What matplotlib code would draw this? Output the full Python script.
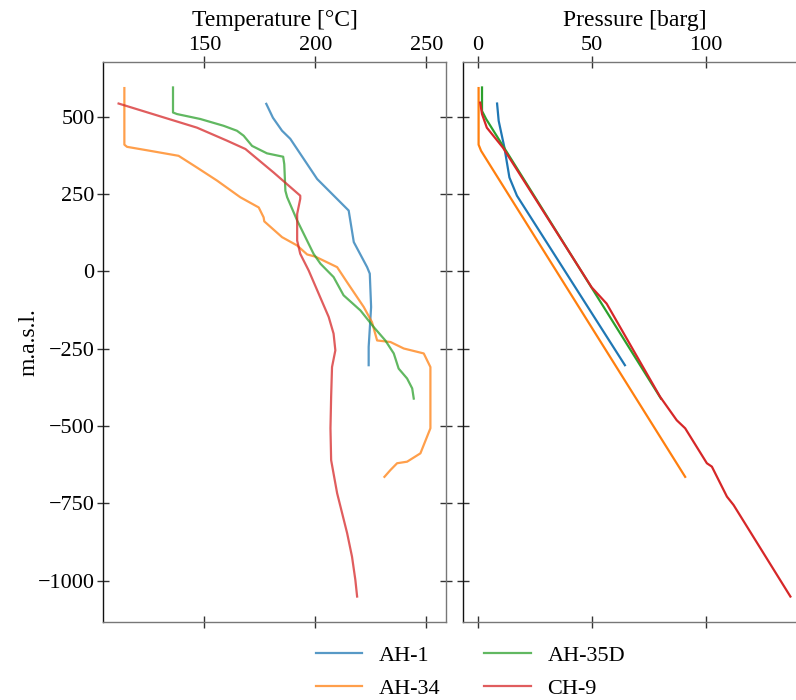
import numpy as np
import matplotlib
matplotlib.use("Agg")
from matplotlib import pyplot as plt

plt.rcParams['font.family'] = ['Liberation Serif', 'DejaVu Serif']

# temperature profiles (deg C vs m.a.s.l.)
ah1_T = [177.9, 180.9, 185.0, 188.7, 200.8, 215.0, 217.3, 223.3, 224.5, 225.1, 224.0, 224.0]
ah1_Tz = [542, 497, 455, 429, 299, 197, 95, 14, -7, -115, -244, -303]

ah34_T = [114.0, 114.0, 115.2, 125.7, 138.4, 146.7, 155.7, 166.2, 174.5, 176.7, 177.0, 185.0,
          191.8, 196.3, 200.0, 209.8, 214.3, 221.8, 225.5, 227.8, 233.8, 239.8, 248.8, 251.8,
          251.8, 247.3, 241.3, 236.8, 233.8, 231.1]
ah34_Tz = [593, 410, 403, 390, 374, 336, 294, 240, 207, 175, 162, 111,
           84, 55, 48, 14, -35, -115, -164, -223, -228, -249, -265, -309,
           -507, -588, -615, -620, -642, -664]

ah35d_T = [135.9, 135.9, 137.7, 148.2, 158.7, 164.7, 167.7, 171.5, 178.2, 185.5, 186.0, 186.5,
           187.3, 191.8, 199.2, 202.3, 208.2, 212.7, 220.3, 226.3, 231.5, 235.3, 237.5, 241.3,
           243.6, 244.3]
ah35d_Tz = [595, 514, 509, 493, 471, 455, 439, 406, 382, 371, 347, 261,
            240, 165, 57, 25, -18, -77, -126, -180, -223, -265, -314, -346,
            -378, -411]

ch9_T = [111.4, 146.7, 160.2, 168.5, 181.2, 193.2, 193.2, 191.8, 191.8, 193.2, 197.0, 201.5,
         206.0, 208.2, 209.0, 207.5, 207.1, 206.8, 207.1, 209.8, 214.3, 216.5, 218.0, 218.8]
ch9_Tz = [543, 465, 423, 396, 320, 245, 235, 186, 100, 57, 3, -72,
          -147, -201, -255, -309, -405, -507, -610, -717, -846, -922, -997, -1051]

# pressure profiles (barg vs m.a.s.l.)
ah1_P = [8.5, 9.2, 11.7, 13.9, 17.2, 64.5]
ah1_Pz = [543, 487, 401, 304, 245, -303]

ah34_P = [0.4, 0.4, 1.5, 90.9]
ah34_Pz = [593, 410, 390, -664]

ah35d_P = [1.9, 1.9, 3.7, 80.3]
ah35d_Pz = [595, 519, 493, -411]

ch9_P = [1.1, 1.9, 4.0, 11.0, 49.9, 56.5, 79.9, 87.2, 90.9, 100.4, 102.6, 109.2, 112.1, 137.0]
ch9_Pz = [546, 509, 465, 401, -51, -104, -405, -481, -507, -620, -631, -728, -755, -1051]

wells = ['AH-1', 'AH-34', 'AH-35D', 'CH-9']
colors = ['#1f77b4', '#ff7f0e', '#2ca02c', '#d62728']
temp_data = [(ah1_T, ah1_Tz), (ah34_T, ah34_Tz), (ah35d_T, ah35d_Tz), (ch9_T, ch9_Tz)]
pres_data = [(ah1_P, ah1_Pz), (ah34_P, ah34_Pz), (ah35d_P, ah35d_Pz), (ch9_P, ch9_Pz)]

fig = plt.figure(figsize=(7.96, 7.0), dpi=100)
ax1 = fig.add_axes([103 / 796, 78 / 700, 343 / 796, 560 / 700])
ax2 = fig.add_axes([463 / 796, 78 / 700, 343 / 796, 560 / 700], sharey=ax1)

for (x, z), c, name in zip(temp_data, colors, wells):
    ax1.plot(x, z, color=c, alpha=0.75, linewidth=1.6, label=name)
for (x, z), c in zip(pres_data, colors):
    ax2.plot(x, z, color=c, linewidth=1.6)

ax1.set_xticks([150, 200, 250])
ax2.set_xticks([0, 50, 100])
ax1.set_yticks([500, 250, 0, -250, -500, -750, -1000])

for ax in (ax1, ax2):
    ax.xaxis.set_label_position('top')
    ax.tick_params(axis='both', direction='inout', length=8, width=1, color='#333333',
                   labelsize=16, top=True, bottom=True, labeltop=True, labelbottom=False)
    ax.tick_params(axis='x', pad=1)
    ax.tick_params(axis='y', pad=2)
    for s in ax.spines.values():
        s.set_color('#777777')
        s.set_linewidth(1.0)
    ax.spines['left'].set_color('#111111')

ax1.tick_params(axis='y', left=True, right=True, labelleft=True)
ax2.tick_params(axis='y', left=True, right=False, labelleft=False)

ax1.set_xlabel('Temperature [°C]', fontsize=17, labelpad=7)
ax2.set_xlabel('Pressure [barg]', fontsize=17, labelpad=7)
ax1.set_ylabel('m.a.s.l.', fontsize=17, labelpad=-1)

handles, labels = ax1.get_legend_handles_labels()
fig.legend(handles, labels, loc='lower center', bbox_to_anchor=(0.591, -0.027), ncol=2,
           frameon=False, fontsize=16, handlelength=2.1, handletextpad=0.75,
           columnspacing=1.95, labelspacing=0.55)

fig.savefig('out.png', dpi=100)
